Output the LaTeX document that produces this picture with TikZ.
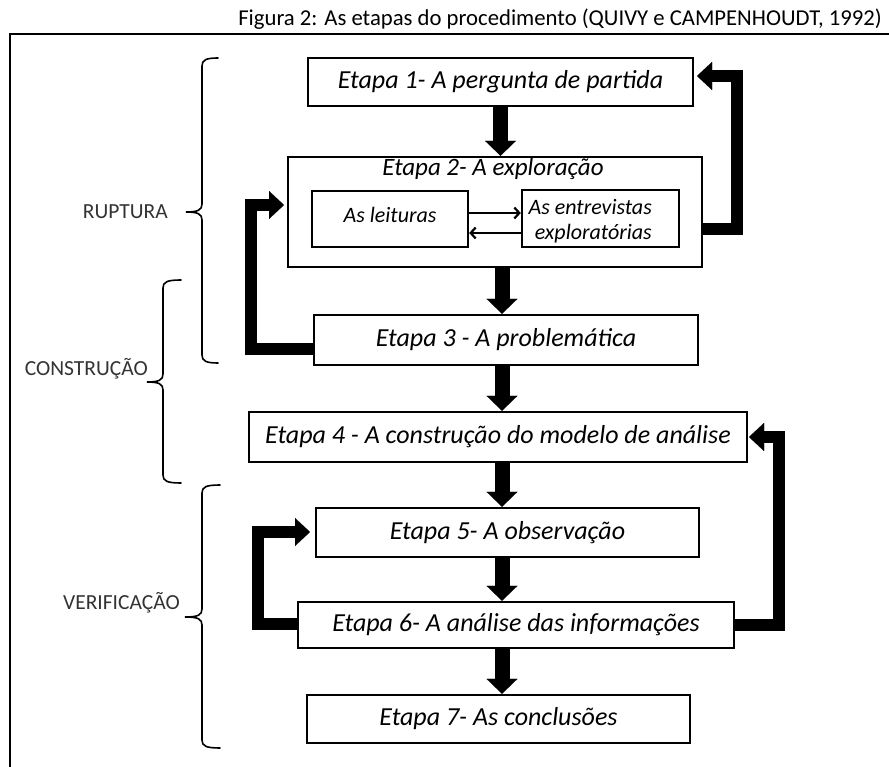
\documentclass[tikz,border=0pt]{standalone}
\usepackage{fontspec}
\setmainfont{Carlito}
\usetikzlibrary{arrows.meta,calc}
\begin{document}
\begin{tikzpicture}[x=1pt,y=-1pt,
  box/.style={draw, line width=2.4pt, inner sep=0pt, font=\fontsize{26}{30}\selectfont\itshape},
  txt/.style={inner sep=0pt, font=\fontsize{22}{25}\selectfont\itshape},
  lbl/.style={inner sep=0pt, text=black!80, font=\fontsize{21.5}{24}\selectfont},
  downarr/.style={line width=15pt, -{Triangle[length=15pt,width=31pt,line width=0.01pt]}},
  fbarr/.style={line width=12pt, line join=miter, -{Triangle[length=15pt,width=28pt,line width=0.01pt]}},
  smallarr/.style={line width=2.2pt, -{Straight Barb[length=5pt,width=11pt]}},
  bracel/.style={line width=1.6pt, line cap=round},
]
\useasboundingbox (0,0) rectangle (889,767);

% title and frame
\node[inner sep=0pt, anchor=east, font=\fontsize{22.7}{26}\selectfont] (title) at (882,19) {Figura 2: As etapas do procedimento (QUIVY e CAMPENHOUDT, 1992)};
\draw[line width=2pt] (10,767) -- (10,34) -- (889,34);

% boxes
\node[box, minimum width=385pt, minimum height=48pt] (b1) at (500.5,82) {Etapa 1- A pergunta de partida};
\node[box, minimum width=414pt, minimum height=110pt] (b2) at (495,212) {};
\node[txt, font=\fontsize{25}{28}\selectfont\itshape] (t2) at (493,169) {Etapa 2- A exploração};
\node[box, minimum width=156pt, minimum height=56pt] (leit) at (390,219) {};
\node[txt] (tleit) at (390,215) {As leituras};
\node[box, minimum width=157pt, minimum height=57pt] (entr) at (600.5,218.5) {};
\node[txt, anchor=east, align=right] (tentr) at (652,221) {As entrevistas\\exploratórias};
\node[box, minimum width=384pt, minimum height=50pt] (b3) at (506,340) {Etapa 3 - A problemática};
\node[box, minimum width=498pt, minimum height=50pt] (b4) at (498,437) {Etapa 4 - A construção do modelo de análise};
\node[box, minimum width=383pt, minimum height=49pt] (b5) at (507.5,532.5) {Etapa 5- A observação};
\node[box, minimum width=436pt, minimum height=46pt] (b6) at (516,625) {Etapa 6- A análise das informações};
\node[box, minimum width=383pt, minimum height=48pt] (b7) at (498.5,719) {Etapa 7- As conclusões};

% main down arrows
\coordinate (ax1) at (500.5,0);
\coordinate (ax) at (502,0);
\draw[downarr] (b1.south -| ax1) -- (b2.north -| ax1);
\draw[downarr] (b2.south -| ax) -- (b3.north -| ax);
\draw[downarr] (b3.south -| ax) -- (b4.north -| ax);
\draw[downarr] (b4.south -| ax) -- (b5.north -| ax);
\draw[downarr] (b5.south -| ax) -- (b6.north -| ax);
\draw[downarr] (b6.south -| ax) -- (b7.north -| ax);

% arrows inside Etapa 2
\draw[smallarr] (leit.east |- 0,213) -- (entr.west |- 0,213);
\draw[smallarr] (entr.west |- 0,233) -- (leit.east |- 0,233);

% feedback arrows
\draw[fbarr] (b2.east |- 0,229) -- (737,229) -- (737,76) -- (697,76);
\draw[fbarr] (b3.west |- 0,349) -- (251,349) -- (251,205) -- (284,205);
\draw[fbarr] (b6.east |- 0,625) -- (779,625) -- (779,437) -- (749,437);
\draw[fbarr] (b6.west |- 0,624) -- (258,624) -- (258,532) -- (310,532);

% braces
\draw[bracel] (218,58) .. controls (206,58) and (202,60) .. (202,66) -- (202,204)
  .. controls (202,210) and (198,212) .. (186,212) .. controls (198,212) and (202,214) .. (202,220)
  -- (202,355) .. controls (202,361) and (206,363) .. (218,363);
\draw[bracel] (181,280) .. controls (167,280) and (163,282) .. (163,288) -- (163,374)
  .. controls (163,380) and (159,382) .. (147,382) .. controls (159,382) and (163,384) .. (163,390)
  -- (163,475) .. controls (163,481) and (167,483) .. (181,483);
\draw[bracel] (220,485) .. controls (206,485) and (202,487) .. (202,493) -- (202,609)
  .. controls (202,615) and (198,617) .. (185,617) .. controls (198,617) and (202,619) .. (202,625)
  -- (202,740) .. controls (202,746) and (206,748) .. (220,748);

\node[lbl, anchor=east] (ruptura) at (168,212) {RUPTURA};
\node[lbl, anchor=east] (construcao) at (148,369) {CONSTRUÇÃO};
\node[lbl, anchor=east] (verificacao) at (180,603) {VERIFICAÇÃO};
\end{tikzpicture}
\end{document}
